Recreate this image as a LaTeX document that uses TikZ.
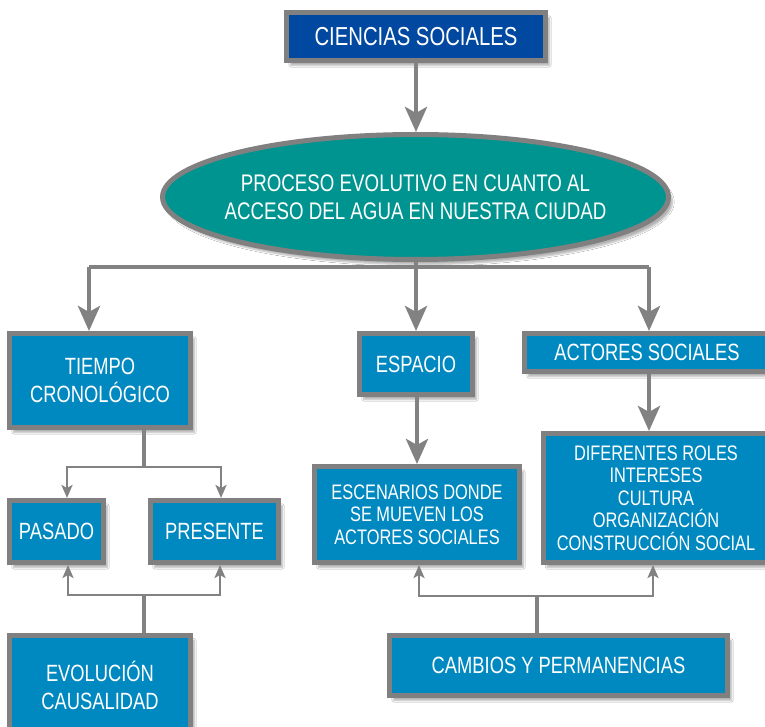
\documentclass[tikz,border=0pt]{standalone}
\usepackage{fontspec}
\newfontfamily\condfont{Liberation Sans}[FakeStretch=0.78]
\usetikzlibrary{arrows.meta,shapes.geometric,shadows.blur}

\definecolor{boxblue}{RGB}{0,136,192}
\definecolor{topblue}{RGB}{0,72,160}
\definecolor{ovalteal}{RGB}{0,148,144}
\definecolor{framegray}{RGB}{128,128,128}
\definecolor{linegray}{RGB}{130,130,130}

\begin{document}
\begin{tikzpicture}[x=1pt, y=-1pt,
  conceptbox/.style={rectangle, draw=framegray, line width=5pt, fill=boxblue, text=white,
    align=center, inner sep=0pt, font=\condfont\fontsize{23.5}{28}\selectfont,
    blur shadow={shadow xshift=4pt, shadow yshift=-5pt, shadow opacity=30, shadow blur steps=6}},
  smallbox/.style={conceptbox, font=\condfont\fontsize{21}{22.5}\selectfont},
  topbox/.style={conceptbox, fill=topblue, font=\condfont\fontsize{26}{30}\selectfont},
  ovalbox/.style={conceptbox, ellipse, inner xsep=-12pt, fill=ovalteal, font=\condfont\fontsize{24}{28}\selectfont},
  thickline/.style={draw=linegray, line width=4.5pt},
  bigarrow/.style={thickline, -{Stealth[length=25pt, width=22pt, inset=6pt]}},
  thinline/.style={draw=linegray, line width=2.8pt},
  smallarrows/.style={thinline, {Stealth[length=13pt, width=11pt, inset=3pt]}-{Stealth[length=13pt, width=11pt, inset=3pt]}}]

\fill[white] (0,0) rectangle (765,727);
\useasboundingbox (0,0) rectangle (765,727);

% top of the map
\node[topbox, minimum width=259pt, minimum height=48pt] (ciencias) at (416,36.5) {CIENCIAS SOCIALES};
\node[ovalbox, minimum width=500pt, minimum height=125pt] (proceso) at (415.5,197) {PROCESO EVOLUTIVO EN CUANTO AL\\ACCESO DEL AGUA EN NUESTRA CIUDAD};

% second row
\node[conceptbox, minimum width=181pt, minimum height=94pt] (tiempo) at (100,380.5) {TIEMPO\\CRONOLÓGICO};
\node[conceptbox, minimum width=113pt, minimum height=61pt] (espacio) at (416,364) {ESPACIO};
\node[conceptbox, minimum width=245pt, minimum height=38pt] (actores) at (647,352.5) {ACTORES SOCIALES};

% third row
\node[conceptbox, minimum width=94pt, minimum height=62pt] (pasado) at (56.5,531.5) {PASADO};
\node[conceptbox, minimum width=128pt, minimum height=62pt] (presente) at (214.5,531.5) {PRESENTE};
\node[smallbox, minimum width=205pt, minimum height=96pt] (escenarios) at (417,514.5) {ESCENARIOS DONDE\\SE MUEVEN LOS\\ACTORES SOCIALES};
\node[smallbox, minimum width=226pt, minimum height=129pt] (roles) at (656,498) {DIFERENTES ROLES\\INTERESES\\CULTURA\\ORGANIZACIÓN\\CONSTRUCCIÓN SOCIAL};

% bottom row
\node[conceptbox, minimum width=181pt, minimum height=101pt] (evolucion) at (100,685.5) {EVOLUCIÓN\\CAUSALIDAD};
\node[conceptbox, minimum width=338pt, minimum height=60pt] (cambios) at (558.5,665.5) {CAMBIOS Y PERMANENCIAS};

% junction points
\coordinate (busL) at (89,267);
\coordinate (busR) at (649,267);
\coordinate (tsplit) at (144,467);
\coordinate (tsplitL) at (67,467);
\coordinate (tsplitR) at (221,467);
\coordinate (esplit) at (144,595);
\coordinate (esplitL) at (68,595);
\coordinate (esplitR) at (220,595);
\coordinate (csplit) at (537,596);
\coordinate (csplitL) at (419,596);
\coordinate (csplitR) at (653,596);

% thick connectors
\draw[bigarrow] (ciencias.south) -- (proceso.north -| ciencias.south);
\draw[thickline] (busL) -- (busR);
\draw[bigarrow] (busL) -- (busL |- tiempo.north);
\draw[bigarrow] (proceso.south -| espacio.north) -- (espacio.north);
\draw[bigarrow] (busR) -- (busR |- actores.north);
\draw[bigarrow] (espacio.south -| escenarios.north) -- (escenarios.north);
\draw[bigarrow] (busR |- actores.south) -- (busR |- roles.north);

% thin branches
\draw[thickline] (tsplit |- tiempo.south) -- (tsplit);
\draw[smallarrows] (tsplitL |- pasado.north) -- (tsplitL) -- (tsplitR) -- (tsplitR |- presente.north);
\draw[thickline] (esplit |- evolucion.north) -- (esplit);
\draw[smallarrows] (esplitL |- pasado.south) -- (esplitL) -- (esplitR) -- (esplitR |- presente.south);
\draw[thickline] (csplit |- cambios.north) -- (csplit);
\draw[smallarrows] (csplitL |- escenarios.south) -- (csplitL) -- (csplitR) -- (csplitR |- roles.south);

\end{tikzpicture}
\end{document}
